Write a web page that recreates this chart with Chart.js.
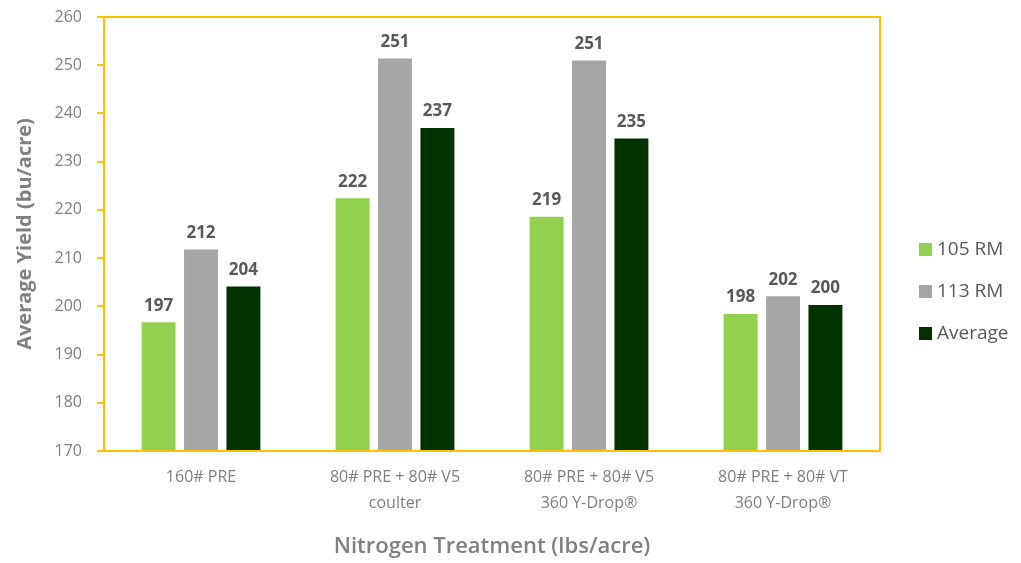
<!DOCTYPE html>
<html>
<head>
<meta charset="utf-8">
<script src="https://cdn.jsdelivr.net/npm/chart.js@4"></script>
<style>
  html, body { margin: 0; padding: 0; background: #fff; }
  #wrap { width: 1021px; height: 563px; }
</style>
</head>
<body>
<div id="wrap"><canvas id="yieldChart"></canvas></div>
<script>
// data
const treatments = [
  ['160# PRE'],
  ['80# PRE + 80# V5', 'coulter'],
  ['80# PRE + 80# V5', '360 Y-Drop®'],
  ['80# PRE + 80# VT', '360 Y-Drop®']
];
const rm105 = [196.7, 222.4, 218.6, 198.4];
const rm113 = [211.8, 251.4, 251.0, 202.1];
const average = [204.1, 237.0, 234.8, 200.3];
const yTicks = [170, 260, 10]; // min, max, step

const FONT = "'Open Sans', sans-serif";
const YELLOW = '#FFC000';

// value labels above each bar
const barLabels = {
  id: 'barLabels',
  afterDatasetsDraw(chart) {
    const ctx = chart.ctx;
    ctx.save();
    ctx.font = 'bold 17px ' + FONT;
    ctx.fillStyle = '#595959';
    ctx.textAlign = 'center';
    ctx.textBaseline = 'bottom';
    chart.data.datasets.forEach((ds, i) => {
      chart.getDatasetMeta(i).data.forEach((bar, j) => {
        ctx.fillText(Math.round(ds.data[j]), bar.x, bar.y - 8);
      });
    });
    ctx.restore();
  }
};

// yellow frame round the plot area
const frame = {
  id: 'frame',
  afterDraw(chart) {
    const a = chart.chartArea, ctx = chart.ctx;
    ctx.save();
    ctx.strokeStyle = YELLOW;
    ctx.lineWidth = 2;
    ctx.strokeRect(a.left, a.top, a.right - a.left, a.bottom - a.top);
    ctx.restore();
  }
};

// legend on the right, drawn by hand
const sideLegend = {
  id: 'sideLegend',
  afterDraw(chart) {
    const ctx = chart.ctx;
    ctx.save();
    ctx.font = '19px ' + FONT;
    ctx.textBaseline = 'middle';
    chart.data.datasets.forEach((ds, i) => {
      const y = 250 + i * 42;
      ctx.fillStyle = ds.backgroundColor;
      ctx.fillRect(919, y - 7, 13, 13);
      ctx.fillStyle = '#595959';
      ctx.fillText(ds.label, 937, y);
    });
    ctx.restore();
  }
};

new Chart(document.getElementById('yieldChart'), {
  type: 'bar',
  data: {
    labels: treatments,
    datasets: [
      { label: '105 RM', data: rm105, backgroundColor: '#92D050' },
      { label: '113 RM', data: rm113, backgroundColor: '#A6A6A6' },
      { label: 'Average', data: average, backgroundColor: '#003300' }
    ]
  },
  options: {
    responsive: true,
    maintainAspectRatio: false,
    animation: false,
    categoryPercentage: 0.656,
    barPercentage: 0.8,
    layout: { padding: { top: 17, right: 141, left: 0, bottom: 0 } },
    plugins: {
      legend: { display: false },
      tooltip: { enabled: false }
    },
    scales: {
      x: {
        grid: { display: false, drawTicks: false },
        border: { color: YELLOW, width: 2 },
        ticks: {
          color: '#7F7F7F',
          font: { family: FONT, size: 16, lineHeight: 1.625 },
          padding: 13,
          maxRotation: 0
        },
        title: {
          display: true,
          text: 'Nitrogen Treatment (lbs/acre)',
          color: '#808080',
          font: { family: FONT, size: 22, weight: '600' },
          padding: { top: 0, bottom: 3 }
        },
        afterFit(s) { s.height = 112; s.paddingLeft = 0; s.paddingRight = 0; }
      },
      y: {
        min: yTicks[0],
        max: yTicks[1],
        grid: { drawOnChartArea: false, drawTicks: true, tickLength: 7, color: YELLOW, lineWidth: 2 },
        border: { color: YELLOW, width: 2 },
        ticks: {
          stepSize: yTicks[2],
          color: '#7F7F7F',
          font: { family: FONT, size: 16 },
          padding: 15
        },
        title: {
          display: true,
          text: 'Average Yield (bu/acre)',
          color: '#808080',
          font: { family: FONT, size: 20, weight: 'bold' },
          padding: { top: 13, bottom: 0 }
        },
        afterFit(s) { s.width = 104; s.paddingTop = 0; s.paddingBottom = 0; }
      }
    }
  },
  plugins: [barLabels, frame, sideLegend]
});
</script>
</body>
</html>
